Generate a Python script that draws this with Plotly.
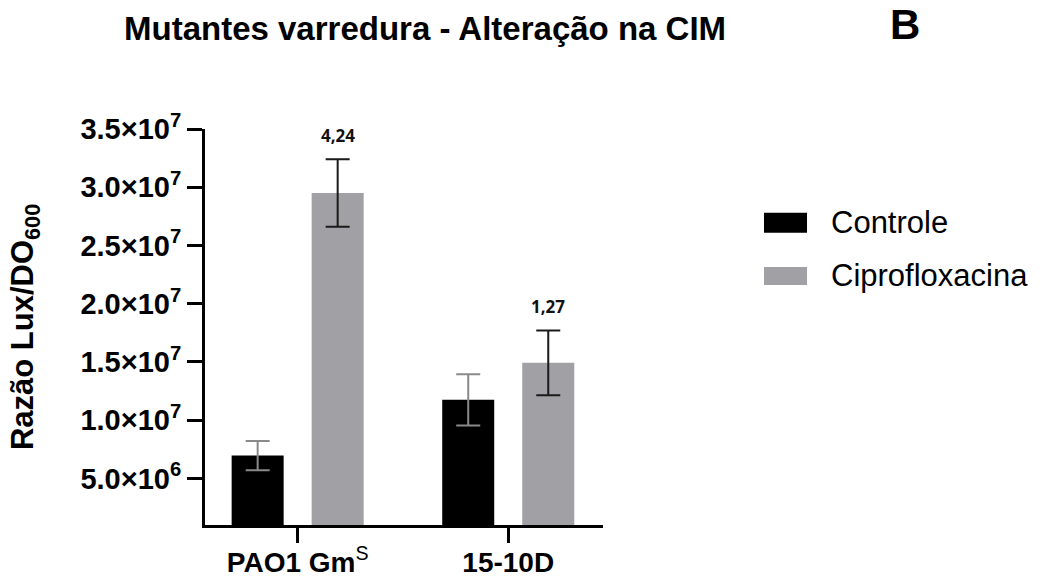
import plotly.graph_objects as go

# Data: luminescence ratio (Lux/OD600) per strain and condition
strains = ["PAO1 Gm<sup>S</sup>", "15-10D"]
strain_labels = ["<b>PAO1 Gm</b><sup>S</sup>", "<b>15-10D</b>"]
controle_mean = [6.96e6, 1.175e7]
controle_err = [1.25e6, 2.2e6]
cipro_mean = [2.951e7, 1.492e7]
cipro_err = [2.9e6, 2.78e6]
fold_labels = ["4,24", "1,27"]

y_ticks = [5e6, 1e7, 1.5e7, 2e7, 2.5e7, 3e7, 3.5e7]
y_tick_text = ["5.0×10<sup>6</sup>", "1.0×10<sup>7</sup>", "1.5×10<sup>7</sup>",
               "2.0×10<sup>7</sup>", "2.5×10<sup>7</sup>", "3.0×10<sup>7</sup>",
               "3.5×10<sup>7</sup>"]

BLACK = "#000000"
GREY = "#a1a1a5"
FONT = "Liberation Sans, Arial, sans-serif"

fig = go.Figure()
fig.add_trace(go.Bar(
    x=strains, y=controle_mean, name="Controle",
    marker=dict(color=BLACK, line=dict(width=0)),
    error_y=dict(type="data", array=controle_err, color="#8a8a8a",
                 thickness=2, width=12),
    showlegend=False,
))
fig.add_trace(go.Bar(
    x=strains, y=cipro_mean, name="Ciprofloxacina",
    marker=dict(color=GREY, line=dict(width=0)),
    error_y=dict(type="data", array=cipro_err, color="#1a1a1a",
                 thickness=2, width=12),
    showlegend=False,
))

# Fold-change labels above the ciprofloxacin bars
for s, m, e, lab in zip(strains, cipro_mean, cipro_err, fold_labels):
    fig.add_annotation(x=s, y=m + e, text=f"<b>{lab}</b>", showarrow=False,
                       xshift=40, yshift=24, yanchor="middle",
                       font=dict(family="Open Sans, sans-serif", size=17, color="#111"))

# Title, panel letter and y-axis title
fig.add_annotation(xref="paper", yref="paper", x=0.553, y=1.255,
                   text="<b>Mutantes varredura - Alteração na CIM</b>", showarrow=False,
                   xanchor="center", yanchor="middle",
                   font=dict(family=FONT, size=33, color="black"))
fig.add_annotation(xref="paper", yref="paper", x=1.76, y=1.265,
                   text="<b>B</b>", showarrow=False, xanchor="center", yanchor="middle",
                   font=dict(family=FONT, size=42, color="black"))
fig.add_annotation(xref="paper", yref="paper", x=-0.452, y=0.5, textangle=-90,
                   text="<b>Razão Lux/DO<sub>600</sub></b>", showarrow=False,
                   xanchor="center", yanchor="middle",
                   font=dict(family=FONT, size=31, color="black"))

# Legend drawn as swatches + labels
legend_items = [("Controle", BLACK, 0.7886, 0.7381, 0.7633),
                ("Ciprofloxacina", GREY, 0.6515, 0.6061, 0.6288)]
for name, col, y0, y1, yc in legend_items:
    fig.add_shape(type="rect", xref="paper", yref="paper", x0=1.4045, x1=1.5126,
                  y0=y1, y1=y0, fillcolor=col, line=dict(width=0))
    fig.add_annotation(xref="paper", yref="paper", x=1.568, y=yc, text=name,
                       showarrow=False, xanchor="left", yanchor="middle",
                       font=dict(family=FONT, size=31, color="black"))

fig.update_layout(
    width=1044, height=579,
    margin=dict(l=205, r=441, t=129, b=54),
    paper_bgcolor="white", plot_bgcolor="white",
    barmode="group", bargap=0.24, bargroupgap=0.35,
)
fig.update_xaxes(
    range=[-0.44, 1.45], tickvals=strains, ticktext=strain_labels,
    showline=True, linecolor="black", linewidth=3,
    ticks="outside", ticklen=15, tickwidth=3, tickcolor="black",
    tickfont=dict(family=FONT, size=28, color="black"), ticklabelstandoff=-5,
    showgrid=False, zeroline=False, automargin=False,
)
fig.update_yaxes(
    range=[1e6, 3.5e7], tickvals=y_ticks, ticktext=y_tick_text,
    showline=True, linecolor="black", linewidth=3,
    ticks="outside", ticklen=15, tickwidth=3, tickcolor="black",
    tickfont=dict(family=FONT, size=29, color="black", weight="bold"),
    showgrid=False, zeroline=False, automargin=False,
)

fig.write_html("out.html")
